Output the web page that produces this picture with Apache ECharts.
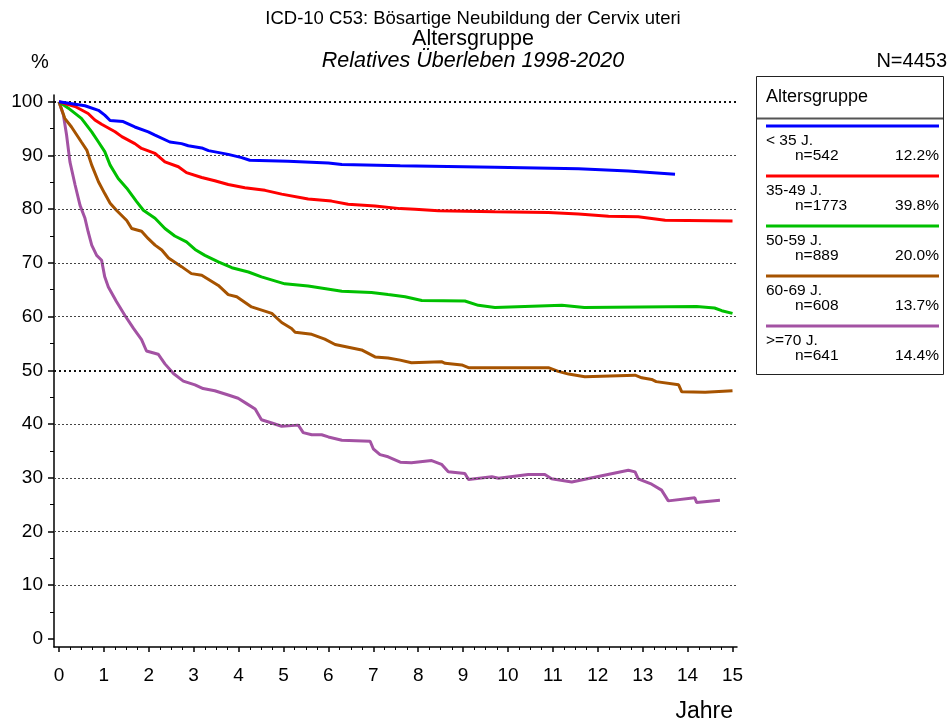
<!DOCTYPE html>
<html><head><meta charset="utf-8">
<script src="https://cdn.jsdelivr.net/npm/echarts@6/dist/echarts.min.js"></script>
<style>html,body{margin:0;padding:0;background:#fff}#c{width:949px;height:725px}</style>
</head><body><div id="c"></div>
<script>
const titleLines = ['ICD-10 C53: Bösartige Neubildung der Cervix uteri', 'Altersgruppe', 'Relatives Überleben 1998-2020'];
const totalN = 'N=4453';
const legendTitle = 'Altersgruppe';
const seriesNames = ['< 35 J.', '35-49 J.', '50-59 J.', '60-69 J.', '>=70 J.'];
const seriesN = ['n=542', 'n=1773', 'n=889', 'n=608', 'n=641'];
const seriesPct = ['12.2%', '39.8%', '20.0%', '13.7%', '14.4%'];
const seriesColors = ['#0000ff', '#ff0000', '#00c000', '#a65300', '#a352a3'];

const xTicks = [0,1,2,3,4,5,6,7,8,9,10,11,12,13,14,15];
const yTicks = [0,10,20,30,40,50,60,70,80,90,100];
const yMinorTicks = [5,15,25,35,45,55,65,75,85,95];
const gridLinesThin = [10,20,30,40,60,70,80,90];
const gridLinesBold = [50,100];

const blue = [[0,100],[0.58,99.25],[0.88,98.4],[1.02,97.5],[1.14,96.5],[1.43,96.3],[1.69,95.3],[1.99,94.4],[2.14,93.8],[2.47,92.5],[2.73,92.2],[2.88,91.8],[3.18,91.4],[3.33,90.9],[3.77,90.2],[4.07,89.6],[4.25,89.1],[5.1,88.9],[6.0,88.6],[6.3,88.3],[7.6,88.1],[9.71,87.8],[11.57,87.5],[12.68,87.1],[13.72,86.5]];
const red = [[0,100],[0.36,99.1],[0.65,97.8],[0.8,96.6],[0.95,95.8],[1.25,94.4],[1.4,93.5],[1.69,92.2],[1.84,91.3],[2.14,90.4],[2.36,88.8],[2.66,87.9],[2.84,86.8],[3.18,85.9],[3.47,85.3],[3.77,84.6],[4.14,84.0],[4.59,83.5],[4.96,82.8],[5.55,81.9],[6.07,81.5],[6.44,80.9],[7.04,80.6],[7.6,80.1],[7.93,80.0],[8.45,79.7],[9.71,79.5],[10.9,79.4],[11.57,79.1],[12.24,78.7],[12.9,78.6],[13.5,77.95],[15.0,77.8]];
const green = [[0,100],[0.21,98.8],[0.5,96.9],[0.73,94.4],[0.88,92.5],[1.02,90.7],[1.14,88.2],[1.32,85.7],[1.51,83.9],[1.73,81.4],[1.88,79.8],[2.14,78.3],[2.36,76.4],[2.58,75.0],[2.84,73.9],[3.03,72.5],[3.25,71.4],[3.55,70.2],[3.85,69.1],[4.22,68.3],[4.51,67.4],[5.03,66.1],[5.55,65.7],[6.3,64.7],[6.96,64.5],[7.33,64.1],[7.71,63.7],[8.08,63.0],[9.04,62.9],[9.34,62.1],[9.71,61.7],[11.2,62.1],[11.7,61.7],[14.2,61.9],[14.6,61.6],[14.76,61.1],[15.0,60.6]];
const brown = [[0,100],[0.13,96.9],[0.28,95.3],[0.5,92.5],[0.62,91.0],[0.73,88.2],[0.88,85.1],[1.02,82.9],[1.14,81.1],[1.28,79.8],[1.51,77.9],[1.62,76.4],[1.84,75.9],[1.99,74.5],[2.14,73.3],[2.29,72.4],[2.44,70.9],[2.73,69.3],[2.95,68.0],[3.18,67.7],[3.55,65.8],[3.77,64.1],[3.96,63.7],[4.29,61.8],[4.74,60.6],[4.96,58.9],[5.18,57.8],[5.26,57.1],[5.63,56.7],[5.92,55.8],[6.15,54.8],[6.74,53.8],[7.04,52.5],[7.33,52.3],[7.6,51.9],[7.85,51.4],[8.52,51.6],[8.6,51.3],[8.97,51.0],[9.12,50.5],[10.9,50.5],[11.12,49.8],[11.35,49.3],[11.71,48.8],[12.83,49.1],[12.98,48.6],[13.2,48.3],[13.3,47.9],[13.8,47.3],[13.87,46.0],[14.39,45.9],[15.0,46.2]];
const purple = [[0,100],[0.1,97.5],[0.17,93.8],[0.245,88.8],[0.36,84.5],[0.47,80.7],[0.58,78.3],[0.65,75.8],[0.73,73.3],[0.84,71.4],[0.95,70.5],[1.02,67.4],[1.1,65.5],[1.28,62.8],[1.47,60.2],[1.66,57.8],[1.84,55.7],[1.95,53.6],[2.21,53.0],[2.36,51.2],[2.55,49.4],[2.77,48.0],[3.03,47.3],[3.21,46.6],[3.47,46.2],[3.77,45.4],[3.99,44.8],[4.18,43.8],[4.37,42.8],[4.51,40.8],[4.74,40.2],[4.96,39.6],[5.33,39.8],[5.44,38.4],[5.63,38.0],[5.85,38.0],[6.0,37.6],[6.3,37.0],[6.93,36.8],[7.0,35.4],[7.15,34.3],[7.33,33.9],[7.6,32.9],[7.85,32.8],[8.3,33.2],[8.52,32.5],[8.67,31.1],[9.04,30.8],[9.12,29.7],[9.64,30.2],[9.79,29.9],[10.45,30.6],[10.82,30.6],[10.97,29.8],[11.42,29.2],[12.68,31.4],[12.83,31.1],[12.9,29.8],[13.2,28.8],[13.42,27.7],[13.57,25.7],[14.16,26.3],[14.2,25.4],[14.72,25.8]];
const allData = [blue, red, green, brown, purple];

const xMinorTicks = [];
for (let i = 0; i <= 60; i++) if (i % 4 !== 0) xMinorTicks.push(i / 4);

const FONT = '"Liberation Sans", Arial, sans-serif';
const chart = echarts.init(document.getElementById('c'), null, {renderer: 'canvas'});

const XMIN = -0.11, XMAX = 15.1, YMIN = -1.5, YMAX = 101.25;

const gridMark = [];
gridLinesThin.forEach(v => gridMark.push({yAxis: v, lineStyle: {color: '#444', width: 1, type: [2, 2]}}));
gridLinesBold.forEach(v => gridMark.push({yAxis: v, lineStyle: {color: '#111', width: 2, type: [2, 3]}}));

const series = [{
  type: 'line', data: [], z: 1, silent: true,
  markLine: {silent: true, symbol: ['none', 'none'], label: {show: false}, animation: false, data: gridMark}
}];
allData.forEach((d, i) => series.push({
  name: seriesNames[i], type: 'line', data: d, showSymbol: false, symbol: 'none', z: 3 + (4 - i),
  lineStyle: {color: seriesColors[i], width: 3}, itemStyle: {color: seriesColors[i]}, animation: false
}));

const graphic = [];
const tl = [{t: titleLines[0], y: 18.5, s: 18.5, st: 'normal'}, {t: titleLines[1], y: 39.5, s: 21.5, st: 'normal'}, {t: titleLines[2], y: 61, s: 21.5, st: 'italic'}];
tl.forEach(o => graphic.push({type: 'text', x: 473, y: o.y, style: {text: o.t, font: o.st + ' ' + o.s + 'px ' + FONT, fill: '#000', align: 'center', verticalAlign: 'middle'}}));
graphic.push({type: 'text', x: 40, y: 62, style: {text: '%', font: '20px ' + FONT, fill: '#000', align: 'center', verticalAlign: 'middle'}});
graphic.push({type: 'text', x: 947, y: 61, style: {text: totalN, font: '20px ' + FONT, fill: '#000', align: 'right', verticalAlign: 'middle'}});
graphic.push({type: 'text', x: 733, y: 712, style: {text: 'Jahre', font: '23px ' + FONT, fill: '#000', align: 'right', verticalAlign: 'middle'}});
// legend box
graphic.push({type: 'rect', shape: {x: 756.5, y: 76.5, width: 187, height: 298}, style: {fill: '#fff', stroke: '#222', lineWidth: 1}});
graphic.push({type: 'line', shape: {x1: 757, y1: 118.5, x2: 943, y2: 118.5}, style: {stroke: '#555', lineWidth: 2}});
graphic.push({type: 'text', x: 766, y: 97, style: {text: legendTitle, font: '18px ' + FONT, fill: '#000', align: 'left', verticalAlign: 'middle'}});
seriesNames.forEach((nm, i) => {
  const y0 = 126 + 50 * i;
  graphic.push({type: 'line', shape: {x1: 766, y1: y0, x2: 939, y2: y0}, style: {stroke: seriesColors[i], lineWidth: 3}});
  graphic.push({type: 'text', x: 766, y: y0 + 15, style: {text: nm, font: '15.5px ' + FONT, fill: '#000', align: 'left', verticalAlign: 'middle'}});
  graphic.push({type: 'text', x: 795, y: y0 + 30, style: {text: seriesN[i], font: '15.5px ' + FONT, fill: '#000', align: 'left', verticalAlign: 'middle'}});
  graphic.push({type: 'text', x: 939, y: y0 + 30, style: {text: seriesPct[i], font: '15.5px ' + FONT, fill: '#000', align: 'right', verticalAlign: 'middle'}});
});

chart.setOption({
  animation: false,
  backgroundColor: '#fff',
  grid: {left: 54, right: 212, top: 95, bottom: 78, containLabel: false},
  xAxis: [{
    type: 'value', min: XMIN, max: XMAX, position: 'bottom', offset: 0,
    axisLine: {show: true, onZero: false, lineStyle: {color: '#000', width: 1.5}},
    axisTick: {show: true, customValues: xTicks, length: 5, lineStyle: {color: '#000', width: 1.5}},
    axisLabel: {show: true, customValues: xTicks, color: '#000', fontSize: 19, fontFamily: FONT, margin: 19},
    splitLine: {show: false}
  }, {
    type: 'value', min: XMIN, max: XMAX, position: 'bottom', offset: 0,
    axisLine: {show: false, onZero: false},
    axisTick: {show: true, customValues: xMinorTicks, length: 3, lineStyle: {color: '#000', width: 1}},
    axisLabel: {show: false},
    splitLine: {show: false}
  }],
  yAxis: [{
    type: 'value', min: YMIN, max: YMAX, position: 'left', offset: 0,
    axisLine: {show: true, onZero: false, lineStyle: {color: '#000', width: 1.5}},
    axisTick: {show: true, customValues: yTicks, length: 6, lineStyle: {color: '#000', width: 1.5}},
    axisLabel: {show: true, customValues: yTicks, color: '#000', fontSize: 19, fontFamily: FONT, margin: 11},
    splitLine: {show: false}
  }, {
    type: 'value', min: YMIN, max: YMAX, position: 'left', offset: 0,
    axisLine: {show: false, onZero: false},
    axisTick: {show: true, customValues: yMinorTicks, length: 4, lineStyle: {color: '#000', width: 1}},
    axisLabel: {show: false},
    splitLine: {show: false}
  }],
  series: series,
  graphic: graphic
});
</script>
</body></html>
